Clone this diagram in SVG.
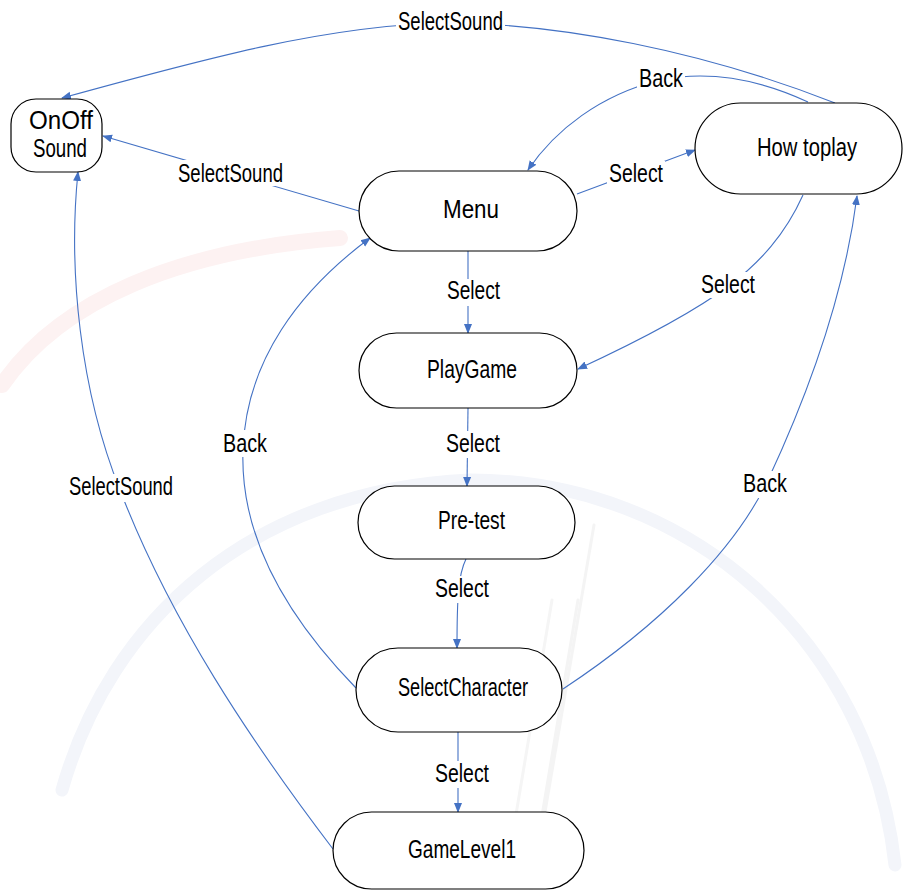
<svg xmlns="http://www.w3.org/2000/svg" width="903" height="890" viewBox="0 0 903 890">
  <style>
    .node { fill: #ffffff; stroke: #000000; stroke-width: 1.2; }
    .edge { fill: none; stroke: #4472C4; stroke-width: 1.1; marker-end: url(#arrow); }
    .lbl { font-family: "Liberation Sans", Arial, sans-serif; font-size: 26px; fill: #000000; }
    .lblbg { fill: #ffffff; }
    .mark { fill: none; stroke-linecap: round; }
  </style>
  <defs>
    <marker id="arrow" markerUnits="userSpaceOnUse" markerWidth="10" markerHeight="10" viewBox="0 0 10 10" refX="9" refY="5" orient="auto">
      <path d="M0,1 L10,5 L0,9 Z" fill="#4472C4"/>
    </marker>
  </defs>

  <rect width="903" height="890" fill="#ffffff"/>

  <!-- faint background emblem -->
  <g id="backdrop">
    <path class="mark" d="M2,385 C60,300 180,250 340,238" stroke="#fdf2f2" stroke-width="16"/>
    <path class="mark" d="M62,790 C110,620 250,490 470,480 C690,480 870,640 895,865" stroke="#f3f5fa" stroke-width="13"/>
    <path class="mark" d="M594,525 L532,888" stroke="#f4f4f4" stroke-width="3"/>
    <path class="mark" d="M578,600 L530,888" stroke="#f4f4f4" stroke-width="3"/>
    <path class="mark" d="M552,600 L505,880" stroke="#f5f5f5" stroke-width="3"/>
  </g>

  <!-- transitions -->
  <g id="connectors">
    <path class="edge" d="M835,103 C700,50 560,24 450,23 C330,24 200,60 62,98"/>
    <path class="edge" d="M359,211 L103,136"/>
    <path class="edge" d="M577,194 L695,150"/>
    <path class="edge" d="M808,102 C750,75 700,72 660,80 C600,95 555,130 528,170"/>
    <path class="edge" d="M468,251 L468,333"/>
    <path class="edge" d="M803,195 C785,235 760,262 730,285 C690,315 630,345 578,369"/>
    <path class="edge" d="M468,408 L467,486"/>
    <path class="edge" d="M466,559 C458,575 457,600 457,648"/>
    <path class="edge" d="M458,732 L458,812"/>
    <path class="edge" d="M563,689 C660,625 735,550 768,480 C810,390 845,290 857,196"/>
    <path class="edge" d="M356,688 C280,610 240,530 243,450 C246,360 300,290 370,238"/>
    <path class="edge" d="M333,849 C250,740 170,620 120,490 C80,390 68,270 78,172"/>
  </g>

  <!-- transition labels -->
  <g id="edge-labels">
    <rect class="lblbg" x="396" y="10" width="109" height="24"/>
    <text class="lbl" x="398" y="30" textLength="105" lengthAdjust="spacingAndGlyphs">SelectSound</text>
    <rect class="lblbg" x="176" y="160" width="109" height="26"/>
    <text class="lbl" x="178" y="182" textLength="105" lengthAdjust="spacingAndGlyphs">SelectSound</text>
    <rect class="lblbg" x="637" y="66" width="48" height="24"/>
    <text class="lbl" x="639" y="87" textLength="44" lengthAdjust="spacingAndGlyphs">Back</text>
    <rect class="lblbg" x="607" y="161" width="58" height="25"/>
    <text class="lbl" x="609" y="182" textLength="54" lengthAdjust="spacingAndGlyphs">Select</text>
    <rect class="lblbg" x="699" y="272" width="58" height="26"/>
    <text class="lbl" x="701" y="293" textLength="54" lengthAdjust="spacingAndGlyphs">Select</text>
    <rect class="lblbg" x="445" y="279" width="57" height="27"/>
    <text class="lbl" x="447" y="299" textLength="53" lengthAdjust="spacingAndGlyphs">Select</text>
    <rect class="lblbg" x="444" y="431" width="58" height="27"/>
    <text class="lbl" x="446" y="452" textLength="54" lengthAdjust="spacingAndGlyphs">Select</text>
    <rect class="lblbg" x="433" y="576" width="58" height="27"/>
    <text class="lbl" x="435" y="597" textLength="54" lengthAdjust="spacingAndGlyphs">Select</text>
    <rect class="lblbg" x="433" y="761" width="58" height="27"/>
    <text class="lbl" x="435" y="782" textLength="54" lengthAdjust="spacingAndGlyphs">Select</text>
    <rect class="lblbg" x="221" y="430" width="48" height="27"/>
    <text class="lbl" x="223" y="452" textLength="44" lengthAdjust="spacingAndGlyphs">Back</text>
    <rect class="lblbg" x="67" y="474" width="108" height="28"/>
    <text class="lbl" x="69" y="495" textLength="104" lengthAdjust="spacingAndGlyphs">SelectSound</text>
    <rect class="lblbg" x="741" y="471" width="48" height="27"/>
    <text class="lbl" x="743" y="492" textLength="44" lengthAdjust="spacingAndGlyphs">Back</text>
  </g>

  <!-- states -->
  <g id="onoff-sound">
    <rect class="node" x="11" y="99" width="91" height="73" rx="25" ry="25"/>
    <text class="lbl" x="29" y="129" textLength="64" lengthAdjust="spacingAndGlyphs">OnOff</text>
    <text class="lbl" x="33" y="157" textLength="54" lengthAdjust="spacingAndGlyphs">Sound</text>
  </g>
  <g id="menu">
    <rect class="node" x="359" y="171" width="218" height="80" rx="40" ry="40"/>
    <text class="lbl" x="443" y="218" textLength="56" lengthAdjust="spacingAndGlyphs">Menu</text>
  </g>
  <g id="how-to-play">
    <rect class="node" x="695" y="103" width="207" height="91" rx="45.5" ry="45.5"/>
    <text class="lbl" x="757" y="156" textLength="100" lengthAdjust="spacingAndGlyphs">How toplay</text>
  </g>
  <g id="play-game">
    <rect class="node" x="359" y="333" width="218" height="75" rx="37.5" ry="37.5"/>
    <text class="lbl" x="427" y="378" textLength="90" lengthAdjust="spacingAndGlyphs">PlayGame</text>
  </g>
  <g id="pre-test">
    <rect class="node" x="358" y="486" width="217" height="73" rx="36.5" ry="36.5"/>
    <text class="lbl" x="438" y="529" textLength="67" lengthAdjust="spacingAndGlyphs">Pre-test</text>
  </g>
  <g id="select-character">
    <rect class="node" x="356" y="648" width="206" height="84" rx="42" ry="42"/>
    <text class="lbl" x="398" y="696" textLength="130" lengthAdjust="spacingAndGlyphs">SelectCharacter</text>
  </g>
  <g id="game-level-1">
    <rect class="node" x="333" y="812" width="251" height="77" rx="38.5" ry="38.5"/>
    <text class="lbl" x="408" y="858" textLength="108" lengthAdjust="spacingAndGlyphs">GameLevel1</text>
  </g>
</svg>
